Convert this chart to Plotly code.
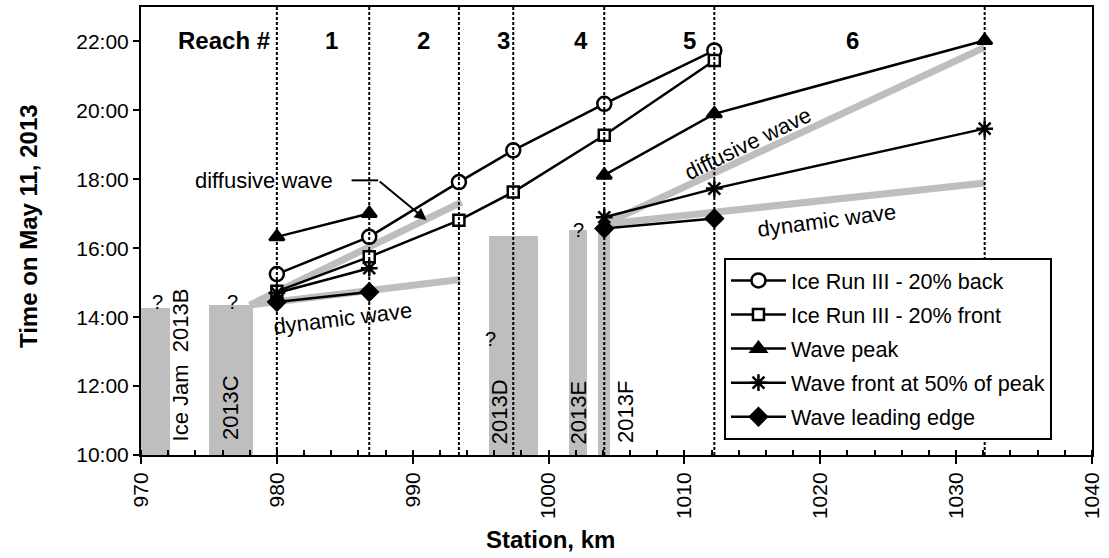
import plotly.graph_objects as go

# ---------------- data ----------------
stations = [980.0, 986.8, 993.4, 997.4, 1004.1, 1012.2, 1032.1]
reach_labels = ["1", "2", "3", "4", "5", "6"]
reach_label_x = [984.0, 990.8, 996.7, 1002.4, 1010.4, 1022.4]

back_x = [980.0, 986.8, 993.4, 997.4, 1004.1, 1012.2]
back_y = [15.25, 16.33, 17.92, 18.84, 20.19, 21.74]
front_x = [980.0, 986.8, 993.4, 997.4, 1004.1, 1012.2]
front_y = [14.75, 15.75, 16.81, 17.63, 19.28, 21.45]
peak_x = [980.0, 986.8, None, 1004.1, 1012.2, 1032.1]
peak_y = [16.33, 17.01, None, 18.12, 19.90, 22.03]
half_x = [980.0, 986.8, None, 1004.1, 1012.2, 1032.1]
half_y = [14.70, 15.42, None, 16.90, 17.73, 19.47]
lead_x = [980.0, 986.8, None, 1004.1, 1012.2]
lead_y = [14.44, 14.73, None, 16.57, 16.86]

diff1_x = [978.0, 993.6]
diff1_y = [14.35, 17.34]
dyn1_x = [978.0, 993.5]
dyn1_y = [14.35, 15.09]
diff2_x = [1004.1, 1032.1]
diff2_y = [16.70, 21.83]
dyn2_x = [1004.1, 1032.1]
dyn2_y = [16.70, 17.89]

jam_left = [970.0, 975.0, 995.6, 1001.5, 1003.65]
jam_right = [972.1, 978.26, 999.2, 1002.8, 1004.5]
jam_top = [14.28, 14.35, 16.36, 16.54, 16.50]
jam_names = ["Ice Jam\u00a0 2013B", "2013C", "2013D", "2013E", "2013F"]
jam_label_x = [972.9, 976.55, 996.4, 1002.2, 1005.7]
jam_label_y = [12.61, 11.39, 11.26, 11.25, 11.25]

q_x = [971.25, 976.7, 995.7, 1002.2]
q_y = [14.45, 14.44, 13.38, 16.52]

y_ticks = [10, 12, 14, 16, 18, 20, 22]
y_ticktext = ["10:00", "12:00", "14:00", "16:00", "18:00", "20:00", "22:00"]
x_ticks = [970, 980, 990, 1000, 1010, 1020, 1030, 1040]

FONT = "Arial, Liberation Sans, sans-serif"
GRAY = "rgb(190,190,190)"

fig = go.Figure()

# ice jam bars
fig.add_trace(go.Bar(
    x=[(a + b) / 2 for a, b in zip(jam_left, jam_right)],
    y=[t - 10 for t in jam_top], base=10,
    width=[b - a for a, b in zip(jam_left, jam_right)],
    marker=dict(color=GRAY, line=dict(width=0)),
    showlegend=False, hoverinfo="skip"))

# model lines
for xs, ys in [(diff1_x, diff1_y), (dyn1_x, dyn1_y), (diff2_x, diff2_y), (dyn2_x, dyn2_y)]:
    fig.add_trace(go.Scatter(x=xs, y=ys, mode="lines",
                             line=dict(color=GRAY, width=7),
                             showlegend=False, hoverinfo="skip"))

series = [
    ("Ice Run III - 20% back", back_x, back_y, "circle", 14, "white"),
    ("Ice Run III - 20% front", front_x, front_y, "square", 11, "white"),
    ("Wave peak", peak_x, peak_y, "triangle-up", 13, "black"),
    ("Wave front at 50% of peak", half_x, half_y, "asterisk-open", 14, "black"),
    ("Wave leading edge", lead_x, lead_y, "diamond", 13, "black"),
]
for i, (name, xs, ys, sym, sz, fillc) in enumerate(series):
    fig.add_trace(go.Scatter(
        x=xs, y=ys, mode="lines+markers", name=name, legendgroup=f"g{i}",
        line=dict(color="black", width=2.5),
        marker=dict(symbol=sym, size=sz, color=fillc,
                    line=dict(color="black", width=2.5)),
        connectgaps=False))

# vertical dashed reach boundaries
for s in stations:
    fig.add_shape(type="line", xref="x", yref="paper", x0=s, x1=s, y0=0, y1=1,
                  line=dict(color="black", width=2, dash="3px,2px"), layer="above")

ann = []
ann.append(dict(x=976.1, y=22.03, text="<b>Reach #</b>", showarrow=False,
                font=dict(size=24, color="black")))
for lab, lx in zip(reach_labels, reach_label_x):
    ann.append(dict(x=lx, y=22.03, text=f"<b>{lab}</b>", showarrow=False,
                    font=dict(size=24, color="black")))
for nm, lx, ly in zip(jam_names, jam_label_x, jam_label_y):
    ann.append(dict(x=lx, y=ly, text=nm, showarrow=False, textangle=-90,
                    font=dict(size=22, color="black")))
for qx, qy in zip(q_x, q_y):
    ann.append(dict(x=qx, y=qy, text="?", showarrow=False,
                    font=dict(size=20, color="black")))
ann.append(dict(x=979.05, y=17.97, text="diffusive wave", showarrow=False,
                font=dict(size=22, color="black")))
ann.append(dict(x=984.8, y=13.97, text="dynamic wave", showarrow=False, textangle=-7,
                font=dict(size=22, color="black")))
ann.append(dict(x=1014.67, y=19.04, text="diffusive wave", showarrow=False, textangle=-26,
                font=dict(size=22, color="black")))
ann.append(dict(x=1020.45, y=16.81, text="dynamic wave", showarrow=False, textangle=-7.5,
                font=dict(size=22, color="black")))
# arrow for diffusive wave label
ann.append(dict(x=991.02, y=16.81, ax=987.46, ay=17.97, axref="x", ayref="y",
                xref="x", yref="y", text="", showarrow=True, arrowhead=2,
                arrowsize=1.2, arrowwidth=2, arrowcolor="black"))
fig.add_shape(type="line", xref="x", yref="y", x0=985.5, x1=987.46, y0=17.97, y1=17.97,
              line=dict(color="black", width=2))

# axis titles
ann.append(dict(xref="paper", yref="paper", x=-0.1188, y=0.511,
                xanchor="center", yanchor="middle",
                text="<b>Time on May 11, 2013</b>", textangle=-90, showarrow=False,
                font=dict(size=24, color="black")))
ann.append(dict(xref="paper", yref="paper", x=0.431, y=-0.189,
                xanchor="center", yanchor="middle",
                text="<b>Station, km</b>", showarrow=False,
                font=dict(size=24, color="black")))

fig.update_layout(
    width=1109, height=558,
    margin=dict(l=141, r=17, t=5, b=103),
    paper_bgcolor="white", plot_bgcolor="white",
    font=dict(family=FONT, size=21, color="black"),
    showlegend=True,
    legend=dict(x=0.613, y=0.44, xanchor="left", yanchor="top",
                bgcolor="white", bordercolor="black", borderwidth=2,
                font=dict(size=21.6), traceorder="grouped", tracegroupgap=3,
                itemwidth=55),
    annotations=ann,
    bargap=0,
    xaxis=dict(range=[970, 1040], tickvals=x_ticks, tickangle=-90,
               showgrid=False, zeroline=False, showline=True, linecolor="black",
               linewidth=2, mirror=True, ticks="outside", ticklen=7, tickwidth=2,
               tickcolor="black", tickfont=dict(size=21),
               minor=dict(dtick=2, tick0=970, ticks="inside", ticklen=5,
                          tickwidth=2, tickcolor="black", showgrid=False)),
    yaxis=dict(range=[10, 23], tickvals=y_ticks, ticktext=y_ticktext,
               showgrid=False, zeroline=False, showline=True, linecolor="black",
               linewidth=2, mirror=True, ticks="outside", ticklen=6, tickwidth=2,
               tickcolor="black", tickfont=dict(size=21)),
    xaxis2=dict(overlaying="x", matches="x", range=[970, 1040], tickvals=x_ticks,
                showticklabels=False, ticks="inside", ticklen=7, tickwidth=2,
                tickcolor="black", showgrid=False, zeroline=False, showline=False,
                side="bottom"),
    yaxis2=dict(overlaying="y", matches="y", range=[10, 23], tickvals=y_ticks,
                showticklabels=False, ticks="inside", ticklen=6, tickwidth=2,
                tickcolor="black", showgrid=False, zeroline=False, showline=False,
                side="left"),
)

fig.write_html("out.html")
